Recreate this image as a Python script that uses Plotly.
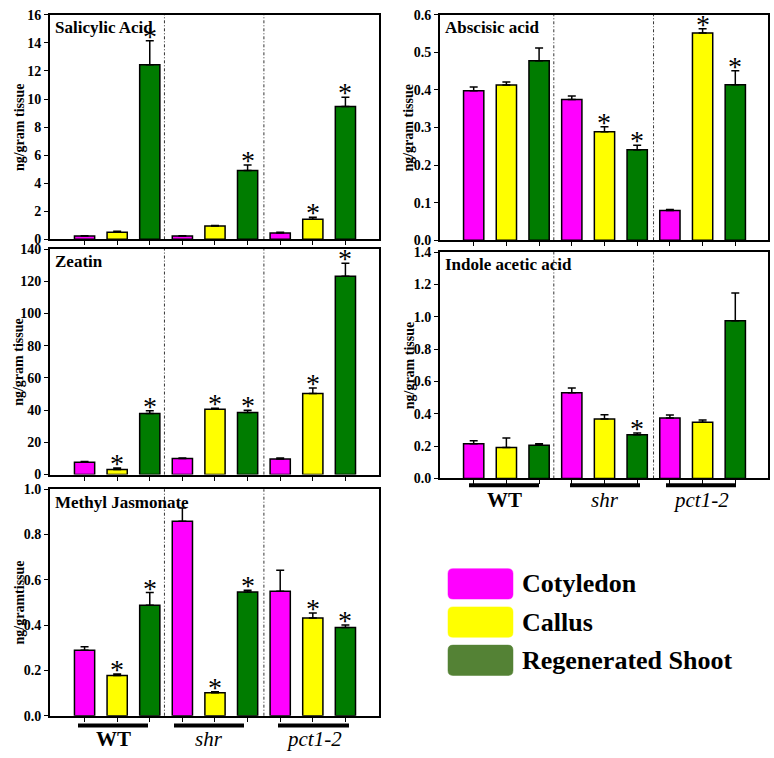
import plotly.graph_objects as go

groups = ["WT", "shr", "pct1-2"]
tissues = ["Cotyledon", "Callus", "Regenerated Shoot"]
tissue_colors = ["#FF00FF", "#FFFF00", "#007C00"]
legend_colors = ["#FF00FF", "#FFFF00", "#548235"]

# order in each list: WT(cot, callus, shoot), shr(...), pct1-2(...)
sa_values = [0.23, 0.5, 12.45, 0.23, 0.95, 4.9, 0.45, 1.43, 9.47]
sa_errors = [0.03, 0.08, 1.7, 0.03, 0.04, 0.4, 0.05, 0.15, 0.65]
sa_stars = [0, 0, 1, 0, 0, 1, 0, 1, 1]

aba_values = [0.398, 0.413, 0.478, 0.375, 0.289, 0.241, 0.079, 0.552, 0.414]
aba_errors = [0.010, 0.008, 0.034, 0.009, 0.013, 0.012, 0.003, 0.011, 0.037]
aba_stars = [0, 0, 0, 0, 1, 1, 0, 1, 1]

zea_values = [7.7, 3.2, 37.9, 10.0, 40.6, 38.5, 9.7, 50.3, 123.1]
zea_errors = [0.4, 0.8, 1.7, 0.3, 0.5, 1.5, 0.6, 3.4, 8.1]
zea_stars = [0, 1, 1, 0, 1, 1, 0, 1, 1]

iaa_values = [0.214, 0.192, 0.206, 0.530, 0.368, 0.271, 0.374, 0.348, 0.975]
iaa_errors = [0.020, 0.059, 0.008, 0.030, 0.026, 0.010, 0.018, 0.014, 0.172]
iaa_stars = [0, 0, 0, 0, 0, 1, 0, 0, 0]

mj_values = [0.289, 0.178, 0.488, 0.859, 0.101, 0.546, 0.550, 0.431, 0.389]
mj_errors = [0.015, 0.006, 0.056, 0.058, 0.005, 0.008, 0.092, 0.022, 0.012]
mj_stars = [0, 1, 1, 0, 1, 1, 0, 1, 1]

W, H = 774, 758
FONT = "Liberation Serif"
ITALIC_FONT = "Liberation Serif, DejaVu Serif, Noto Serif, Times New Roman, serif"

def px_x(p):
    return p / W

def px_y(p):
    return 1 - p / H

# panel: (title, values, errors, stars, yrange, dtick, fmt, ytitle, x px span, y px span, xrange)
panels = [
    ("Salicylic Acid", sa_values, sa_errors, sa_stars, [0, 16], 2, "d", "ng/gram tissue",
     (50, 379), (8, 237), [-0.06, 10.03]),
    ("Abscisic acid", aba_values, aba_errors, aba_stars, [0, 0.6], 0.1, ".1f", "ng/gram tissue",
     (440, 768), (8, 238), [-0.03, 10.0]),
    ("Zeatin", zea_values, zea_errors, zea_stars, [0, 140], 20, "d", "ng/gram tissue",
     (50, 379), (247, 477), [-0.06, 10.03]),
    ("Indole acetic acid", iaa_values, iaa_errors, iaa_stars, [0, 1.4], 0.2, ".1f", "ng/gram tissue",
     (440, 768), (250, 481), [-0.03, 10.0]),
    ("Methyl Jasmonate", mj_values, mj_errors, mj_stars, [0, 1.0], 0.2, ".1f", "ng/gramtissue",
     (50, 379), (492, 723), [-0.06, 10.03]),
]

positions = list(range(1, 10))

fig = go.Figure()
layout = dict(
    width=W, height=H, margin=dict(l=0, r=0, t=0, b=0),
    paper_bgcolor="white", plot_bgcolor="white",
    showlegend=False, barmode="overlay",
    font=dict(family=FONT, color="black"),
)
annotations = []
shapes = []

for i, (title, vals, errs, stars, yr, dt, fmt, ytitle, xs, ys, xr) in enumerate(panels):
    n = "" if i == 0 else str(i + 1)
    xa = "x" + n
    ya = "y" + n
    for t in range(3):
        idx = [g * 3 + t for g in range(3)]
        fig.add_trace(go.Bar(
            x=[positions[k] for k in idx],
            y=[vals[k] for k in idx],
            width=0.62,
            marker=dict(color=tissue_colors[t], line=dict(color="black", width=1.5)),
            error_y=dict(type="data", symmetric=False,
                         array=[errs[k] for k in idx], arrayminus=[0, 0, 0],
                         color="black", thickness=1.5, width=4),
            xaxis=xa, yaxis=ya, name=tissues[t], hoverinfo="skip",
        ))
    layout["xaxis" + n] = dict(
        domain=[px_x(xs[0]), px_x(xs[1])], anchor=ya, range=xr,
        showline=True, linecolor="black", linewidth=2, mirror=True,
        tickvals=positions, ticktext=[""] * 9, ticks="outside", ticklen=4,
        tickwidth=1.2, tickcolor="black", showgrid=False, zeroline=False, fixedrange=True,
    )
    layout["yaxis" + n] = dict(
        domain=[px_y(ys[1]), px_y(ys[0])], anchor=xa, range=yr, dtick=dt, tick0=0,
        tickformat=fmt, showline=True, linecolor="black", linewidth=2, mirror=True,
        ticks="outside", ticklen=4, tickwidth=1.2, tickcolor="black",
        tickfont=dict(family=FONT, size=14, color="black", weight="bold"),
        showgrid=False, zeroline=False, fixedrange=True,
    )
    # panel title
    annotations.append(dict(
        xref="paper", yref="paper", x=px_x(xs[0] + 3), y=px_y(ys[0] + 13),
        xanchor="left", yanchor="middle", showarrow=False, text="<b>" + title + "</b>",
        font=dict(family=FONT, size=17, color="black"),
    ))
    # y-axis title
    annotations.append(dict(
        xref="paper", yref="paper", x=px_x(xs[0] - 31), y=px_y((ys[0] + ys[1]) / 2),
        xanchor="center", yanchor="middle", showarrow=False, text="<b>" + ytitle + "</b>",
        textangle=-90, font=dict(family=FONT, size=14, color="black"),
    ))
    # stars
    for k in range(9):
        if stars[k]:
            annotations.append(dict(
                xref=xa, yref=ya, x=positions[k], y=vals[k] + errs[k],
                xanchor="center", yanchor="bottom", showarrow=False, text="*",
                yshift=-13, font=dict(family=FONT, size=28, color="black"),
            ))
    # group dividers
    for dx in (3.45, 6.5):
        shapes.append(dict(
            type="line", xref=xa, yref=ya + " domain", x0=dx, x1=dx, y0=0, y1=1,
            line=dict(color="black", width=0.8, dash="3px,2px,1px,2px"), layer="below",
        ))

# group underline bars and labels (under Indole acetic acid and Methyl Jasmonate panels)
group_spans_right = [(469, 539), (570, 640), (666, 736)]
group_spans_left = [(78, 148), (174, 244), (278, 349)]
for spans, ybar, ylab in ((group_spans_right, 488, 503), (group_spans_left, 733, 747)):
    for g, (a, b) in enumerate(spans):
        shapes.append(dict(
            type="line", xref="paper", yref="paper", x0=px_x(a), x1=px_x(b),
            y0=px_y(ybar), y1=px_y(ybar), line=dict(color="black", width=4),
        ))
        if g == 0:
            txt = "<b>" + groups[g] + "</b>"
            fnt = dict(family=FONT, size=21, color="black")
        else:
            txt = groups[g]
            fnt = dict(family=ITALIC_FONT, size=21, color="black", style="italic")
        annotations.append(dict(
            xref="paper", yref="paper", x=px_x((a + b) / 2), y=px_y(ylab),
            xanchor="center", yanchor="middle", showarrow=False, text=txt, font=fnt,
        ))

# legend
legend_rows = [(573, 604), (612, 643), (651, 682)]

def conv(tok):
    if "," in tok:
        a, b = tok.split(",")
        return f"{px_x(float(a)):.5f},{px_y(float(b)):.5f}"
    return tok

for t, (y0, y1) in enumerate(legend_rows):
    x0, x1 = 448, 513
    r = 5
    path = (f"M {x0 + r},{y0} L {x1 - r},{y0} Q {x1},{y0} {x1},{y0 + r} "
            f"L {x1},{y1 - r} Q {x1},{y1} {x1 - r},{y1} L {x0 + r},{y1} "
            f"Q {x0},{y1} {x0},{y1 - r} L {x0},{y0 + r} Q {x0},{y0} {x0 + r},{y0} Z")
    ppath = " ".join(conv(tok) for tok in path.split(" "))
    shapes.append(dict(type="path", xref="paper", yref="paper", path=ppath,
                       fillcolor=legend_colors[t], line=dict(color=legend_colors[t], width=0.5)))
    annotations.append(dict(
        xref="paper", yref="paper", x=px_x(520), y=px_y((y0 + y1) / 2),
        xanchor="left", yanchor="middle", showarrow=False, text="<b>" + tissues[t] + "</b>",
        font=dict(family=FONT, size=26, color="black"),
    ))

layout["annotations"] = annotations
layout["shapes"] = shapes
fig.update_layout(**layout)
fig.write_html("out.html", config={"displayModeBar": False},
               post_script="document.body.style.margin='0';document.body.style.overflow='hidden';")
